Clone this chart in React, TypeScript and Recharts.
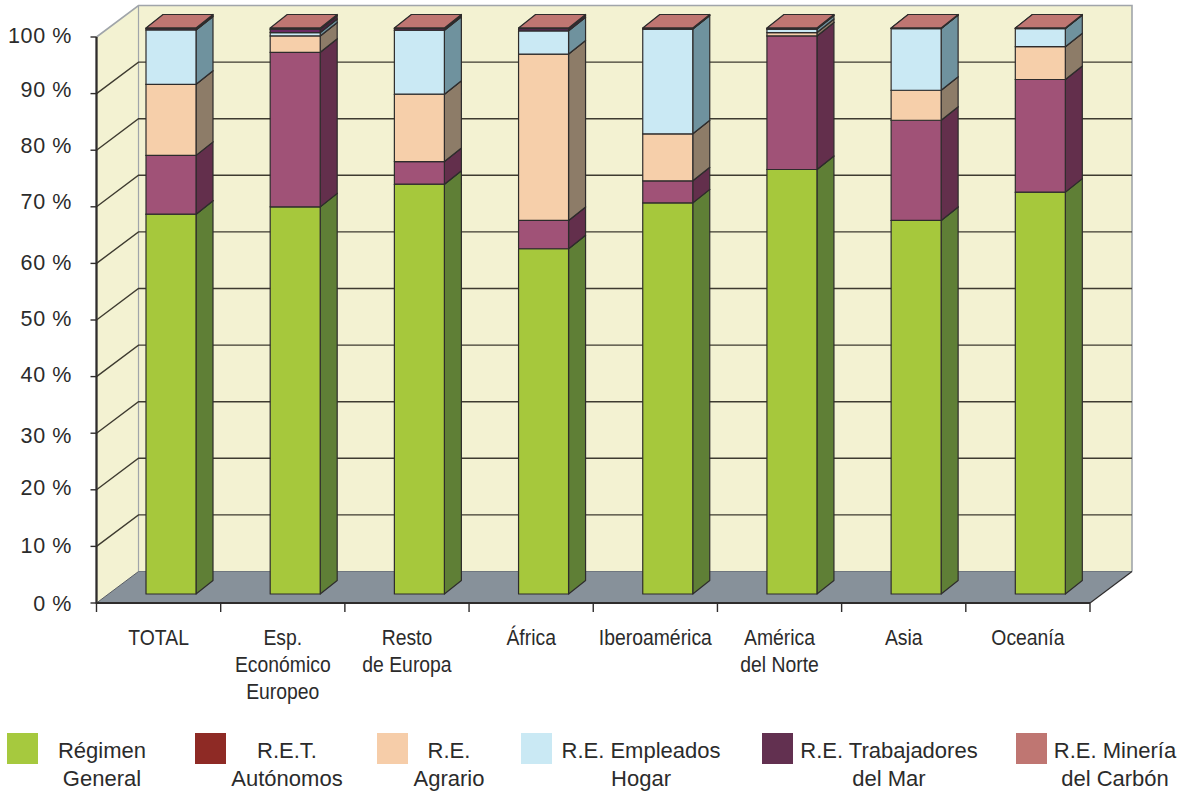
import React from "react";
import { BarChart, Bar, XAxis, YAxis, CartesianGrid, ReferenceArea, Legend } from "recharts";

const categories = ["TOTAL", "Esp.\nEconómico\nEuropeo", "Resto\nde Europa", "África", "Iberoamérica", "América\ndel Norte", "Asia", "Oceanía"];
const general = [67.1, 68.4, 72.4, 61.0, 69.1, 75.0, 66.0, 71.0];
const autonomos = [10.4, 27.3, 4.0, 5.0, 3.9, 23.6, 17.7, 19.9];
const agrario = [12.55, 2.9, 11.9, 29.4, 8.3, 0.6, 5.3, 5.8];
const hogar = [9.6, 0.6, 11.3, 4.1, 18.5, 0.6, 10.9, 3.2];
const mar = [0.25, 0.6, 0.3, 0.4, 0.1, 0.1, 0.05, 0.05];
const mineria = [0.1, 0.2, 0.1, 0.1, 0.1, 0.1, 0.05, 0.05];
const yTicks = [0, 10, 20, 30, 40, 50, 60, 70, 80, 90, 100];

const rows = categories.map((name, i) => ({
  name,
  general: general[i],
  autonomos: autonomos[i],
  agrario: agrario[i],
  hogar: hogar[i],
  mar: mar[i],
  mineria: mineria[i],
}));

const series = [
  { key: "general", name: "Régimen\nGeneral", legend: "#A6C93E", front: "#A6C83C", side: "#5F7F36", top: "#A6C83C", sx: 7, cx: 102 },
  { key: "autonomos", name: "R.E.T.\nAutónomos", legend: "#8E2A25", front: "#A05277", side: "#632F4C", top: "#A05277", sx: 195, cx: 287 },
  { key: "agrario", name: "R.E.\nAgrario", legend: "#F6CDA9", front: "#F6CFAA", side: "#8D7C68", top: "#F6CFAA", sx: 377, cx: 449 },
  { key: "hogar", name: "R.E. Empleados\nHogar", legend: "#CAE9F4", front: "#CAE9F4", side: "#6F929E", top: "#CAE9F4", sx: 521, cx: 641 },
  { key: "mar", name: "R.E. Trabajadores\ndel Mar", legend: "#623050", front: "#6A2A62", side: "#4A2240", top: "#6A2A62", sx: 762, cx: 889 },
  { key: "mineria", name: "R.E. Minería\ndel Carbón", legend: "#BF7672", front: "#BF7672", side: "#2E2A2E", top: "#BF7672", sx: 1016, cx: 1115 },
];

const WALL_DX = 42;
const WALL_DY = -31.5;
const BAR_DX = 12.5;
const BAR_DY = -9;
const DEPTH_X = 17;
const DEPTH_Y = -13.5;
const INK = "#2E2C2C";
const TEXT = "#2B2B2B";
const SANS = "'Liberation Sans', Arial, sans-serif";
const BAND = 993.5 / categories.length;

const Wall = (p: any) => {
  const { x, y, width, height } = p;
  const r = x + width;
  const b = y + height;
  const wall = "#F3F2D2";
  const edge = "#A0A5AA";
  return (
    <g>
      <polygon points={`${x},${b} ${x},${y} ${x + WALL_DX},${y + WALL_DY} ${x + WALL_DX},${b + WALL_DY}`} fill={wall} />
      <rect x={x + WALL_DX} y={y + WALL_DY} width={width} height={height} fill={wall} />
      <polygon points={`${x},${b} ${x + WALL_DX},${b + WALL_DY} ${r + WALL_DX},${b + WALL_DY} ${r},${b}`} fill="#87919A" />
      <path d={`M${x},${y} L${x + WALL_DX},${y + WALL_DY} L${r + WALL_DX},${y + WALL_DY} L${r + WALL_DX},${b + WALL_DY}`} fill="none" stroke={edge} strokeWidth={1.6} />
      <line x1={x + WALL_DX} y1={y + WALL_DY} x2={x + WALL_DX} y2={b + WALL_DY} stroke={edge} strokeWidth={1.2} />
      <line x1={x + WALL_DX} y1={b + WALL_DY} x2={r + WALL_DX} y2={b + WALL_DY} stroke="#6F7780" strokeWidth={1} />
      <line x1={x} y1={b} x2={x + WALL_DX} y2={b + WALL_DY} stroke="#5A5F64" strokeWidth={1} />
      <line x1={r} y1={b} x2={r + WALL_DX} y2={b + WALL_DY} stroke={INK} strokeWidth={1.2} />
      <path d={`M${x},${y} L${x},${b} L${r},${b}`} fill="none" stroke={INK} strokeWidth={1.8} />
    </g>
  );
};

const GridLine = (p: any) => {
  const { x1, x2, y1, index } = p;
  if (Math.abs(y1 - 603) < 1 || Math.abs(y1 - 37) < 1) return <g key={p.key ?? index} />;
  return (
    <path
      key={p.key ?? index}
      d={`M${x1},${y1} L${x1 + WALL_DX},${y1 + WALL_DY} L${x2 + WALL_DX},${y1 + WALL_DY}`}
      fill="none"
      stroke="#3E3B30"
      strokeWidth={1.4}
    />
  );
};

const Box = (p: any) => {
  const { x, y, width, height, front, side, top } = p;
  const l = x + BAR_DX;
  const t = y + BAR_DY;
  const r = l + width;
  const b = t + height;
  return (
    <g stroke={INK} strokeWidth={1.2} strokeLinejoin="round">
      <polygon points={`${r},${t} ${r + DEPTH_X},${t + DEPTH_Y} ${r + DEPTH_X},${b + DEPTH_Y} ${r},${b}`} fill={side} />
      <polygon points={`${l},${t} ${l + DEPTH_X},${t + DEPTH_Y} ${r + DEPTH_X},${t + DEPTH_Y} ${r},${t}`} fill={top} />
      <rect x={l} y={t} width={width} height={height} fill={front} />
    </g>
  );
};

const LABEL_NUDGE: Record<number, number> = { 100: -1.5, 90: -4, 80: -5, 70: -5, 60: -1, 50: -2, 40: -2, 30: 2, 20: -2, 10: -1, 0: 0 };

const YTick = (p: any) => {
  const v = p.payload.value;
  return (
    <text x={72} y={p.y + LABEL_NUDGE[v] + 7.5} textAnchor="end" fontFamily={SANS} fontSize={21.5} letterSpacing={0.6} fill={TEXT}>
      {`${v} %`}
    </text>
  );
};

const XTick = (p: any) => {
  const { x, index, payload } = p;
  const y = p.y - 8;
  const lines = String(payload.value).split("\n");
  const last = index === categories.length - 1;
  return (
    <g>
      <line x1={x - BAND / 2} x2={x - BAND / 2} y1={y} y2={y + 9} stroke={INK} strokeWidth={1.4} />
      {last && <line x1={x + BAND / 2} x2={x + BAND / 2} y1={y} y2={y + 9} stroke={INK} strokeWidth={1.4} />}
      <g transform={`translate(${x},0) scale(0.88,1)`}>
        <text textAnchor="middle" fontFamily={SANS} fontSize={22} fill={TEXT}>
          {lines.map((s, i) => (
            <tspan key={i} x={0} y={y + 42.5 + i * 27}>
              {s}
            </tspan>
          ))}
        </text>
      </g>
    </g>
  );
};

const LegendBlock = (p: any) => (
  <div style={{ position: "relative", width: 1187, height: 60 }}>
    {(p.payload ?? []).map((item: any) => {
      const s = series.find((q) => q.key === item.dataKey)!;
      return (
        <React.Fragment key={s.key}>
          <div style={{ position: "absolute", left: s.sx, top: 0, width: 31, height: 31, background: item.color }} />
          <div
            style={{
              position: "absolute",
              left: s.cx - 110,
              top: 4,
              width: 220,
              textAlign: "center",
              whiteSpace: "pre-line",
              fontFamily: SANS,
              fontSize: 22,
              lineHeight: "27.5px",
              color: TEXT,
            }}
          >
            {item.value}
          </div>
        </React.Fragment>
      );
    })}
  </div>
);

export default function App() {
  return (
    <div style={{ position: "absolute", left: 0, top: 0, width: 1187, height: 793, background: "#fff", overflow: "hidden" }}>
      <BarChart
        width={1187}
        height={793}
        data={rows}
        margin={{ top: 37, right: 97, bottom: 0, left: 0 }}
        barSize={50}
        barCategoryGap={0}
      >
        <ReferenceArea y1={0} y2={100} shape={<Wall />} ifOverflow="visible" zIndex={-200} />
        <CartesianGrid vertical={false} horizontal={GridLine as any} />
        <XAxis
          dataKey="name"
          height={130}
          interval={0}
          tick={<XTick />}
          tickLine={false}
          axisLine={{ stroke: INK, strokeWidth: 1.8 }}
        />
        <YAxis
          type="number"
          width={96.5}
          domain={[0, 100]}
          ticks={yTicks}
          interval={0}
          tick={<YTick />}
          tickSize={6}
          tickLine={{ stroke: INK, strokeWidth: 1.4 }}
          axisLine={{ stroke: INK, strokeWidth: 1.8 }}
        />
        {series.map((s) => (
          <Bar
            key={s.key}
            dataKey={s.key}
            name={s.name}
            stackId="a"
            fill={s.legend}
            isAnimationActive={false}
            shape={(p: any) => <Box {...p} front={s.front} side={s.side} top={s.top} />}
          />
        ))}
        <Legend
          content={<LegendBlock />}
          itemSorter={null as any}
          wrapperStyle={{ position: "absolute", left: 0, top: 733, width: 1187, height: 60, margin: 0, padding: 0 }}
        />
      </BarChart>
    </div>
  );
}
